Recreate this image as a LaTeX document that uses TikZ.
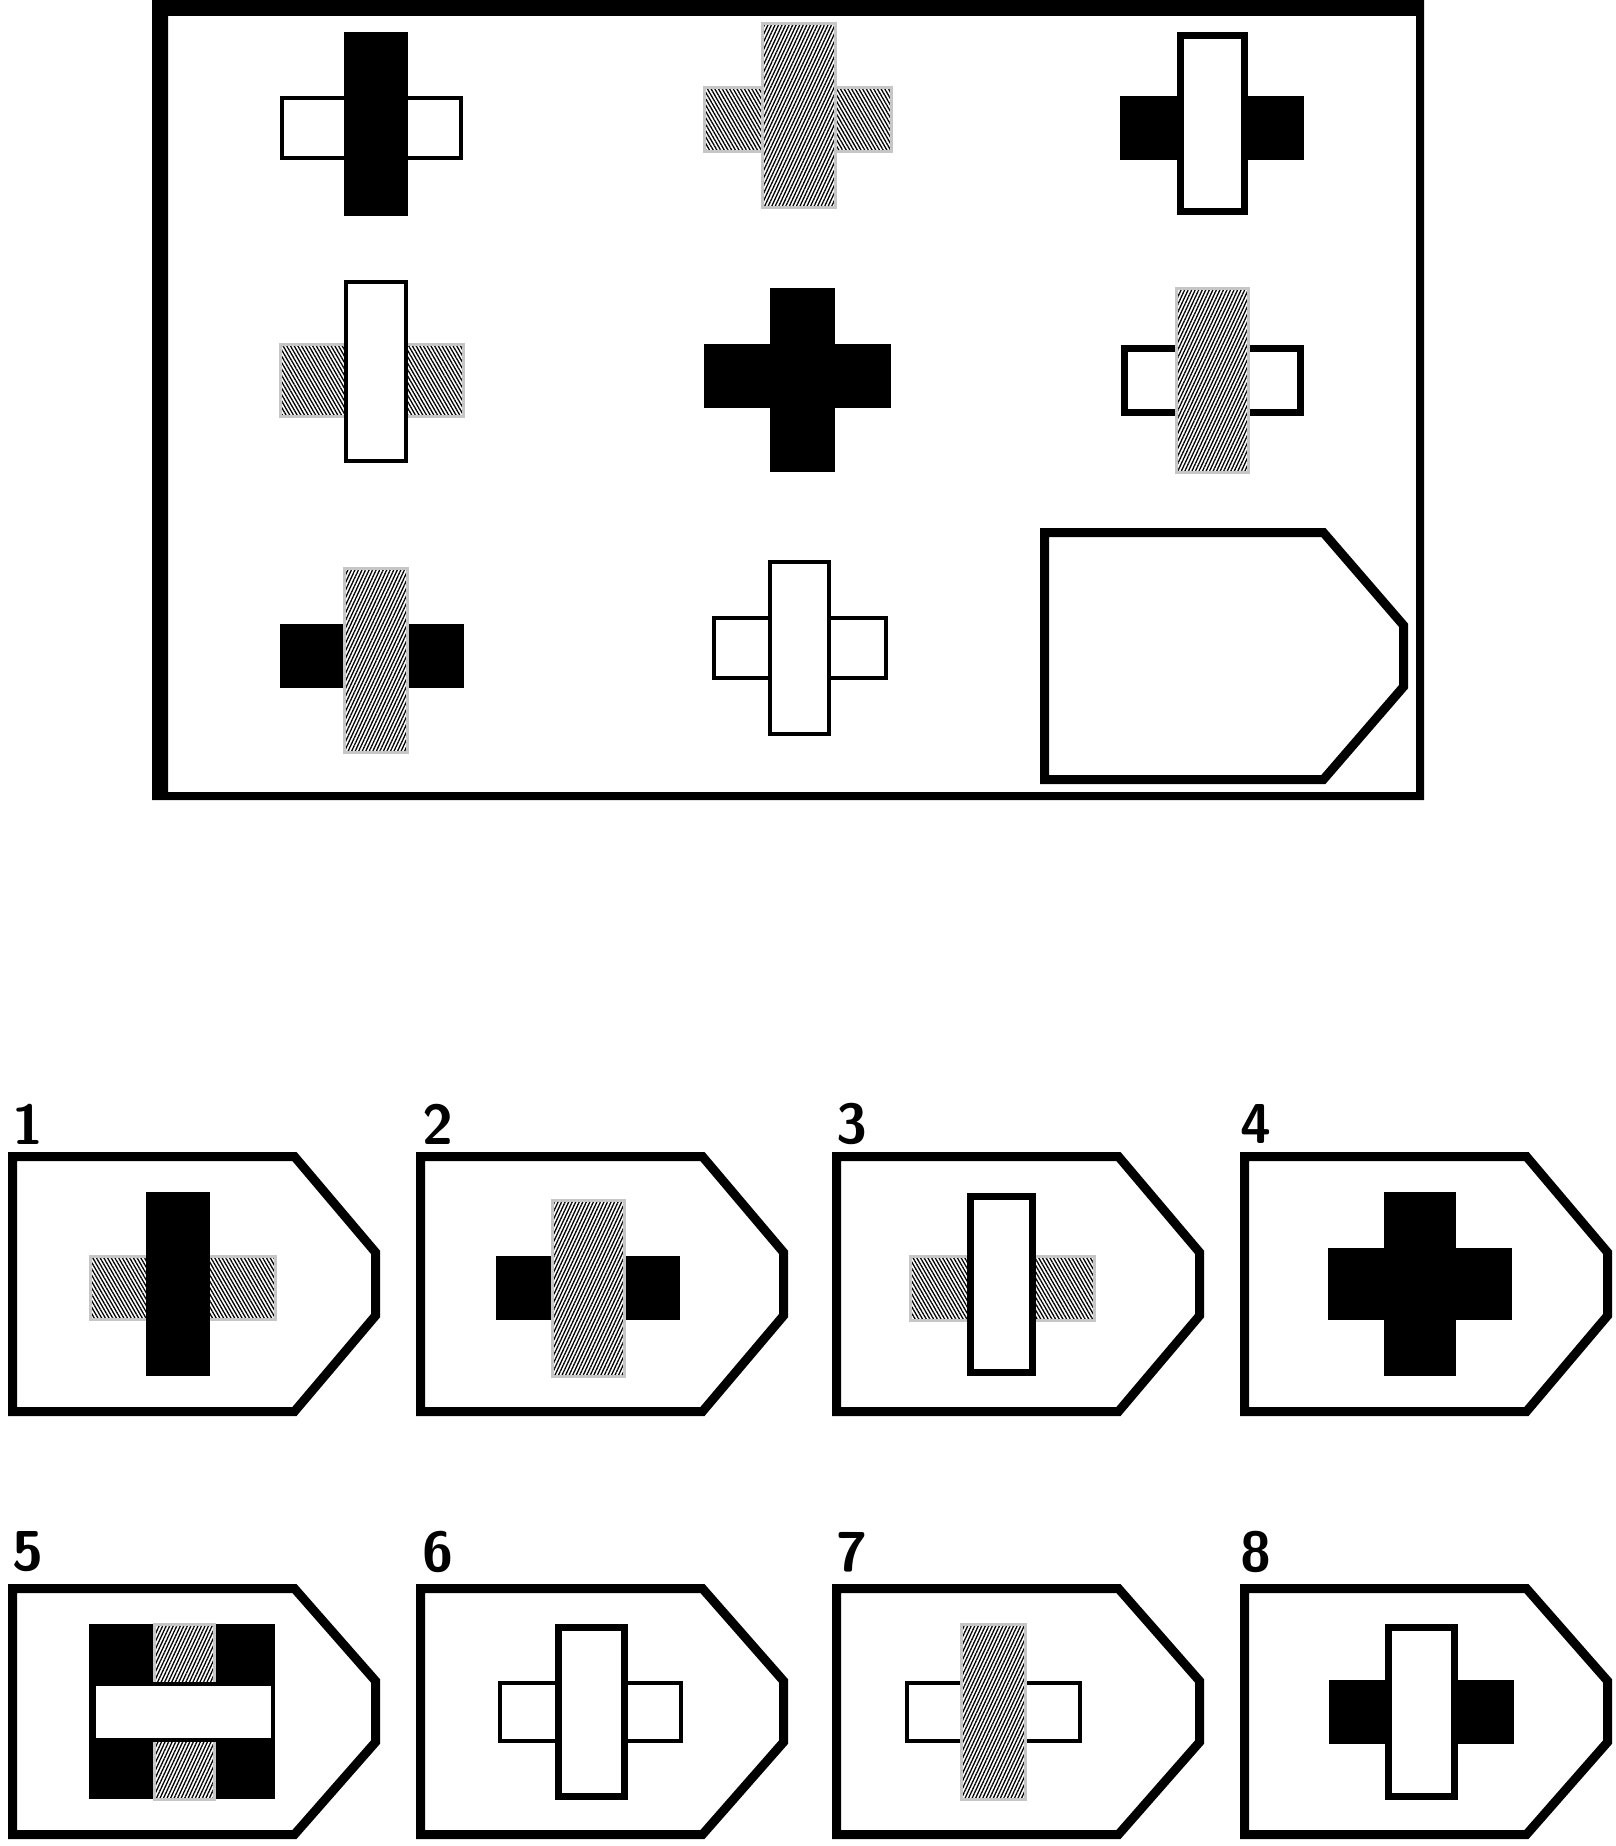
\documentclass[tikz,border=0pt]{standalone}
\usepackage{tikz}
\usetikzlibrary{patterns.meta}

\newcommand{\tagbox}[4]{%
	\draw[tagline] ({#1+4.5},{#2+4.5}) -- ({#1+0.77*#3},{#2+4.5}) -- ({#1+#3-4.5},{#2+0.38*#4}) -- ({#1+#3-4.5},{#2+0.62*#4}) -- ({#1+0.77*#3},{#2+#4-4.5}) -- ({#1+4.5},{#2+#4-4.5}) -- cycle;}

\begin{document}
\begin{tikzpicture}[x=0.1mm,y=-0.1mm,
		blk/.style={fill=black},
		gryv/.style={preaction={fill=white},draw=gray!45,line width=0.3mm,pattern={Lines[angle=65,distance=0.32mm,line width=0.13mm]}},
		gryh/.style={preaction={fill=white},draw=gray!45,line width=0.3mm,pattern={Lines[angle=-60,distance=0.32mm,line width=0.13mm]}},
		wht/.style={fill=white,draw=black,line width=0.4mm},
		whtthick/.style={fill=white,draw=black,line width=0.7mm},
		tagline/.style={fill=white,draw=black,line width=0.9mm},
		num/.style={font=\sffamily\bfseries\fontsize{16}{16}\selectfont,inner sep=0pt}]
		\useasboundingbox (0,0) rectangle (1615,1846);
		
		\fill[black,even odd rule] (152,0) rectangle (1424,800) (168,16) rectangle (1416,792);
		
		\draw[wht] (282,98) rectangle (461,158);
		\fill[blk] (344,32) rectangle (408,216);
		\fill[gryh] (704,88) rectangle (891,152);
		\fill[gryv] (762,24) rectangle (835,208);
		\fill[blk] (1120,96) rectangle (1304,160);
		\draw[whtthick] (1180,36) rectangle (1244,212);
		
		\fill[gryh] (280,344) rectangle (463,416);
		\draw[wht] (346,282) rectangle (406,461);
		\fill[blk] (704,344) rectangle (891,408);
		\fill[blk] (770,288) rectangle (835,472);
		\draw[whtthick] (1124,348) rectangle (1300,412);
		\fill[gryv] (1176,288) rectangle (1248,472);
		
		\fill[blk] (280,624) rectangle (464,688);
		\fill[gryv] (344,568) rectangle (407,752);
		\draw[wht] (714,618) rectangle (886,678);
		\draw[wht] (770,562) rectangle (829,734);
		\tagbox{1040}{528}{368}{256}
		
		\foreach \l in {8,416,832,1240} {
			\tagbox{\l}{1152}{372}{264}
			\tagbox{\l}{1584}{372}{255}
		}
		
		\node[num] (n1) at (28,1124) {1};
		\node[num] (n2) at (438,1124) {2};
		\node[num] (n3) at (852,1124) {3};
		\node[num] (n4) at (1256,1124) {4};
		\node[num] (n5) at (28,1552) {5};
		\node[num] (n6) at (438,1552) {6};
		\node[num] (n7) at (852,1552) {7};
		\node[num] (n8) at (1256,1552) {8};
		
		\fill[gryh] (90,1256) rectangle (275,1319);
		\fill[blk] (146,1192) rectangle (210,1376);
		\fill[blk] (496,1256) rectangle (680,1320);
		\fill[gryv] (552,1200) rectangle (624,1376);
		\fill[gryh] (910,1256) rectangle (1094,1320);
		\draw[whtthick] (970,1196) rectangle (1032,1372);
		\fill[blk] (1328,1248) rectangle (1512,1320);
		\fill[blk] (1384,1192) rectangle (1456,1376);
		
		\fill[blk] (89,1624) rectangle (275,1799);
		\fill[gryv] (154,1624) rectangle (214,1799);
		\draw[wht] (94,1684) rectangle (273,1740);
		\draw[wht] (500,1683) rectangle (681,1741);
		\draw[whtthick] (558,1627) rectangle (624,1796);
		\draw[wht] (907,1683) rectangle (1080,1741);
		\fill[gryv] (961,1624) rectangle (1025,1799);
		\fill[blk] (1329,1680) rectangle (1514,1744);
		\draw[whtthick] (1388,1627) rectangle (1454,1796);
\end{tikzpicture}
\end{document}
